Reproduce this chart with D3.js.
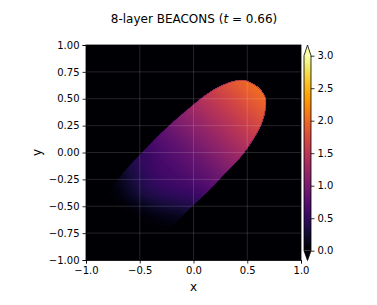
<!DOCTYPE html>
<html>
<head>
<meta charset="utf-8">
<script src="https://cdn.jsdelivr.net/npm/d3@7"></script>
<style>
body { margin: 0; background: #fff; }
text { font-family: "DejaVu Sans", sans-serif; fill: #000; }
.tick text { font-size: 10px; }
.tick line, .domain { stroke: #000; stroke-width: 0.8px; }
</style>
</head>
<body>
<script>

var xTicks = [-1, -0.5, 0, 0.5, 1];
var yTicks = [-1, -0.75, -0.5, -0.25, 0, 0.25, 0.5, 0.75, 1];
var cbarTicks = [0, 0.5, 1, 1.5, 2, 2.5, 3];

// field, 0.1 step, rows from y=1 down to y=-1, columns x=-1 to x=1
var field = [
[0,0,0,0,0,0,0,0,0,0,0,0,0,0,0,0,0,0,0,0,0],
[0,0,0,0,0,0,0,0,0,0,0,0,0,0,0,0,0,0,0,0,0],
[0,0,0,0,0,0,0,0,0,0,0,1.67,1.76,1.86,1.95,2.05,2.14,2.24,2.33,2.43,0],
[0,0,0,0,0,0,0,0,0,0,1.57,1.67,1.76,1.86,1.95,2.05,2.14,2.24,2.33,2.43,0],
[0,0,0,0,0,0,0,0,0,1.38,1.48,1.57,1.67,1.76,1.86,1.95,2.05,2.14,2.24,2.33,0],
[0,0,0,0,0,0,0,1.1,1.19,1.29,1.38,1.48,1.57,1.67,1.76,1.86,1.95,2.05,2.14,2.24,0],
[0,0,0,0,0,0,0.9,1,1.1,1.19,1.29,1.38,1.48,1.57,1.67,1.76,1.86,1.95,2.05,2.14,0],
[0,0,0,0,0,0.68,0.81,0.9,1,1.1,1.19,1.29,1.38,1.48,1.57,1.67,1.76,1.86,1.95,2.05,0],
[0,0,0,0,0.42,0.58,0.68,0.81,0.9,1,1.1,1.19,1.29,1.38,1.48,1.57,1.67,1.76,1.86,1.95,0],
[0,0,0,0.25,0.36,0.5,0.64,0.74,0.81,0.9,1,1.1,1.19,1.29,1.38,1.48,1.57,1.67,1.76,1.86,0],
[0,0,0.1,0.22,0.36,0.47,0.58,0.68,0.75,0.82,0.9,1,1.1,1.19,1.29,1.38,1.48,1.57,1.67,1.76,0],
[0,0.02,0.08,0.2,0.34,0.47,0.56,0.64,0.7,0.76,0.82,0.9,1,1.1,1.19,1.29,1.38,1.48,1.57,1.67,0],
[0,0.01,0.07,0.17,0.31,0.43,0.53,0.6,0.64,0.7,0.76,0.82,0.9,1,1.1,1.19,1.29,1.38,1.48,1.57,0],
[0,0,0.04,0.13,0.26,0.38,0.47,0.53,0.57,0.61,0.66,0.72,0.81,0.9,1,1.1,1.19,1.29,1.38,1.48,0],
[0,0,0.02,0.08,0.19,0.3,0.38,0.43,0.47,0.5,0.54,0.6,0.68,0.81,0.9,1,1.1,1.19,1.29,1.38,0],
[0,0,0,0.03,0.07,0.14,0.21,0.27,0.31,0.34,0.38,0.42,0.5,0.6,0.7,0.8,0.9,1,1.1,1.19,0],
[0,0,0,0,0.01,0.04,0.08,0.12,0.14,0.18,0.22,0.27,0.33,0.4,0.5,0.6,0.7,0.8,0.9,1,0],
[0,0,0,0,0,0.01,0.02,0.04,0.06,0.08,0.1,0.14,0.2,0.28,0.35,0.4,0.5,0.6,0.7,0.8,0],
[0,0,0,0,0,0,0,0,0,0,0,0,0,0,0,0,0,0,0,0,0],
[0,0,0,0,0,0,0,0,0,0,0,0,0,0,0,0,0,0,0,0,0],
[0,0,0,0,0,0,0,0,0,0,0,0,0,0,0,0,0,0,0,0,0]
];

// edge of the bright region, clockwise from the left
var outlineX = [-0.8,-0.684,-0.467,-0.25,-0.002,0.184,0.33,0.463,0.58,0.66,0.674,0.634,0.464,0.216,-0.002,-0.28,-0.5,-0.76];
var outlineY = [-0.41,-0.225,0.007,0.225,0.442,0.581,0.65,0.672,0.62,0.53,0.458,0.272,-0.008,-0.272,-0.488,-0.752,-0.84,-0.68];

var width = 377,
    height = 305;

var x = d3.scaleLinear().domain([-1, 1]).range([86, 301]);
var y = d3.scaleLinear().domain([-1, 1]).range([260, 45]);
var c = d3.scaleLinear().domain([0, 3]).range([250.7, 55.7]);

function color(v) {
  return d3.interpolateInferno(v / 3);
}

var svg = d3.select("body").append("svg")
    .attr("width", width)
    .attr("height", height)
    .style("display", "block");

var defs = svg.append("defs");

var outline = outlineX.map(function(d, i) { return [x(d), y(outlineY[i])]; });

defs.append("clipPath").attr("id", "shape")
  .append("path")
    .attr("d", d3.line().curve(d3.curveCatmullRomClosed)(outline));

// plot background
svg.append("rect")
    .attr("x", x(-1))
    .attr("y", y(1))
    .attr("width", x(1) - x(-1))
    .attr("height", y(-1) - y(1))
    .attr("fill", color(0));

// field as stacked contours, clipped to the edge
var nx = field[0].length,
    ny = field.length;

var contours = d3.contours()
    .size([nx, ny])
    .thresholds(d3.range(0.01, 2.5, 0.02))(field.flat());

// contour grid units -> pixels (grid values sit at cell centres)
var project = d3.geoTransform({
  point: function(gx, gy) {
    this.stream.point(x(-1 + (gx - 0.5) * 0.1), y(1 - (gy - 0.5) * 0.1));
  }
});

svg.append("g")
    .attr("clip-path", "url(#shape)")
  .selectAll("path")
  .data(contours)
  .enter().append("path")
    .attr("d", d3.geoPath(project))
    .attr("fill", function(d) { return color(d.value); });

// dark rim along the sharp part of the edge
svg.append("path")
    .attr("d", d3.line().curve(d3.curveCatmullRom)(outline.slice(2, 15)))
    .attr("fill", "none")
    .attr("stroke", color(0.75))
    .attr("stroke-width", 1)
    .attr("stroke-opacity", 0.5);

// grid
var grid = svg.append("g")
    .attr("stroke", "#fff")
    .attr("stroke-opacity", 0.18)
    .attr("stroke-width", 0.8);

grid.selectAll(".gx").data(xTicks.slice(1, -1)).enter().append("line")
    .attr("x1", x).attr("x2", x)
    .attr("y1", y(-1)).attr("y2", y(1));

grid.selectAll(".gy").data(yTicks.slice(1, -1)).enter().append("line")
    .attr("x1", x(-1)).attr("x2", x(1))
    .attr("y1", y).attr("y2", y);

// axes
svg.append("g")
    .attr("transform", "translate(0,260)")
    .call(d3.axisBottom(x).tickValues(xTicks).tickFormat(d3.format(".1f")).tickSize(3.5).tickPadding(3));

svg.append("g")
    .attr("transform", "translate(86,0)")
    .call(d3.axisLeft(y).tickValues(yTicks).tickFormat(d3.format(".2f")).tickSize(3.5).tickPadding(3));

svg.append("rect")
    .attr("x", x(-1))
    .attr("y", y(1))
    .attr("width", x(1) - x(-1))
    .attr("height", y(-1) - y(1))
    .attr("fill", "none")
    .attr("stroke", "#000")
    .attr("stroke-width", 0.8);

// colorbar
var barX0 = 304,
    barX1 = 311,
    barMid = (barX0 + barX1) / 2,
    tipTop = 45,
    tipBottom = 260.5;

var grad = defs.append("linearGradient")
    .attr("id", "cbar")
    .attr("x1", 0).attr("x2", 0)
    .attr("y1", 1).attr("y2", 0);

grad.selectAll("stop")
  .data(d3.range(0, 3.01, 0.1))
  .enter().append("stop")
    .attr("offset", function(d) { return d / 3; })
    .attr("stop-color", color);

svg.append("rect")
    .attr("x", barX0)
    .attr("y", c(3))
    .attr("width", barX1 - barX0)
    .attr("height", c(0) - c(3))
    .attr("fill", "url(#cbar)");

svg.append("path")
    .attr("d", "M" + barX0 + "," + c(3) + "L" + barMid + "," + tipTop + "L" + barX1 + "," + c(3) + "Z")
    .attr("fill", color(3));

svg.append("path")
    .attr("d", "M" + barX0 + "," + c(0) + "L" + barMid + "," + tipBottom + "L" + barX1 + "," + c(0) + "Z")
    .attr("fill", color(0));

svg.append("path")
    .attr("d", "M" + barX0 + "," + c(3) + "L" + barMid + "," + tipTop + "L" + barX1 + "," + c(3) +
               "L" + barX1 + "," + c(0) + "L" + barMid + "," + tipBottom + "L" + barX0 + "," + c(0) + "Z")
    .attr("fill", "none")
    .attr("stroke", "#000")
    .attr("stroke-width", 0.8);

var cAxis = svg.append("g")
    .attr("transform", "translate(" + barX1 + ",0)")
    .call(d3.axisRight(c).tickValues(cbarTicks).tickFormat(d3.format(".1f")).tickSize(3.5).tickPadding(3));
cAxis.select(".domain").remove();

// labels
var title = svg.append("text")
    .attr("x", 194)
    .attr("y", 23)
    .attr("text-anchor", "middle")
    .style("font-size", "12px");
title.append("tspan").text("8-layer BEACONS (");
title.append("tspan").style("font-style", "italic").text("t");
title.append("tspan").text(" = 0.66)");

svg.append("text")
    .attr("x", 193.5)
    .attr("y", 291)
    .attr("text-anchor", "middle")
    .style("font-size", "12px")
    .text("x");

svg.append("text")
    .attr("transform", "translate(41,152.5) rotate(-90)")
    .attr("text-anchor", "middle")
    .style("font-size", "12px")
    .text("y");

</script>
</body>
</html>
